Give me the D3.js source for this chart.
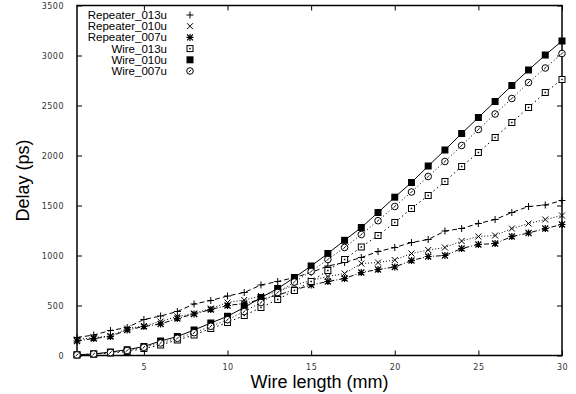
<!DOCTYPE html>
<meta charset="utf-8">
<style>
body { margin: 0; background: #fff; }
.tick text { font: 8px "DejaVu Sans", sans-serif; fill: #333; letter-spacing: 0.5px; }
.title { font: 18px "Liberation Sans", Arial, sans-serif; fill: #000; }
.legend text { font: 11.5px "Liberation Sans", Arial, sans-serif; fill: #000; }
</style>
<body>
<script src="https://cdn.jsdelivr.net/npm/d3@7"></script>
<script>

const lengths = [1,2,3,4,5,6,7,8,9,10,11,12,13,14,15,16,17,18,19,20,21,22,23,24,25,26,27,28,29,30];

const repeater013 = [180,205,250,280,360,395,440,515,550,595, 630,705,740,780,830,895,930,980,1040,1080, 1130,1160,1245,1270,1320,1360,1430,1490,1505,1550];
const repeater010 = [160,180,195,270,295,340,390,420,470,530, 555,595,640,705,750,790,820,920,930,955, 1020,1055,1080,1145,1190,1200,1270,1320,1360,1400];
const repeater007 = [145,170,190,255,290,315,370,415,460,500, 520,560,605,655,705,740,770,830,860,885, 950,990,1000,1070,1110,1120,1190,1225,1270,1310];
const wire013 = [5,15,25,40,70,105,155,205,270,330, 400,480,560,650,740,850,960,1085,1200,1330, 1470,1600,1740,1890,2030,2180,2330,2480,2630,2760];
const wire010 = [8,15,35,58,90,145,190,255,325,392, 480,580,670,780,895,1020,1152,1280,1430,1583, 1730,1895,2055,2220,2380,2540,2700,2855,3005,3145];
const wire007 = [6,15,30,50,82,125,172,228,292,358, 440,530,630,735,840,960,1080,1210,1348,1490, 1635,1790,1940,2100,2260,2415,2570,2730,2875,3020];

const seriesNames = ["Repeater_013u", "Repeater_010u", "Repeater_007u", "Wire_013u", "Wire_010u", "Wire_007u"];
const xTicks = [5, 10, 15, 20, 25, 30];
const yTicks = [0, 500, 1000, 1500, 2000, 2500, 3000, 3500];

const width = 576, height = 394;
const margin = {top: 5.5, right: 14, bottom: 38.5, left: 77};

const series = [
  {name: seriesNames[0], values: repeater013, dash: "5,3", mark: "plus"},
  {name: seriesNames[1], values: repeater010, dash: "1,2", mark: "cross"},
  {name: seriesNames[2], values: repeater007, dash: "5,2,1,2", mark: "star"},
  {name: seriesNames[3], values: wire013, dash: "1.5,3", mark: "boxdot"},
  {name: seriesNames[4], values: wire010, dash: null, mark: "box"},
  {name: seriesNames[5], values: wire007, dash: "1,2.5", mark: "circle"}
];

const x = d3.scaleLinear()
    .domain([1, 30])
    .range([margin.left, width - margin.right]);

const y = d3.scaleLinear()
    .domain([0, 3500])
    .range([height - margin.bottom, margin.top]);

const svg = d3.select("body").append("svg")
    .attr("width", width)
    .attr("height", height);

// axes, ticks pointing inward, mirrored on top and right
svg.append("g")
    .attr("transform", `translate(0,${y(0)})`)
    .call(d3.axisBottom(x).tickValues(xTicks).tickSize(-5).tickPadding(9).tickFormat(d3.format("d")))
    .call(g => g.select(".domain").remove());

svg.append("g")
    .attr("transform", `translate(0,${y(3500)})`)
    .call(d3.axisTop(x).tickValues(xTicks).tickSize(-5).tickFormat(""))
    .call(g => g.select(".domain").remove());

svg.append("g")
    .attr("transform", `translate(${x(1)},0)`)
    .call(d3.axisLeft(y).tickValues(yTicks).tickSize(-5).tickPadding(13).tickFormat(d3.format("d")))
    .call(g => g.select(".domain").remove());

svg.append("g")
    .attr("transform", `translate(${x(30)},0)`)
    .call(d3.axisRight(y).tickValues(yTicks).tickSize(-5).tickFormat(""))
    .call(g => g.select(".domain").remove());

svg.selectAll(".tick line").attr("stroke", "#000");

svg.append("rect")
    .attr("x", x(1))
    .attr("y", y(3500))
    .attr("width", x(30) - x(1))
    .attr("height", y(0) - y(3500))
    .attr("fill", "none")
    .attr("stroke", "#000")
    .attr("stroke-width", 1.5);

const line = d3.line()
    .x((d, i) => x(lengths[i]))
    .y(d => y(d));

function drawMark(g, kind) {
  const s = 3.5;
  if (kind === "plus") {
    g.append("path").attr("d", `M${-s},0H${s}M0,${-s}V${s}`).attr("stroke", "#000").attr("stroke-width", 1);
  } else if (kind === "cross") {
    const c = 3;
    g.append("path").attr("d", `M${-c},${-c}L${c},${c}M${-c},${c}L${c},${-c}`).attr("stroke", "#000").attr("stroke-width", 1);
  } else if (kind === "star") {
    const c = 3;
    g.append("path").attr("d", `M${-c},${-c}L${c},${c}M${-c},${c}L${c},${-c}M${-s},0H${s}M0,${-s}V${s}`).attr("stroke", "#000").attr("stroke-width", 1.2);
  } else if (kind === "box") {
    g.append("rect").attr("x", -3.5).attr("y", -3.5).attr("width", 7).attr("height", 7).attr("fill", "#000");
  } else if (kind === "boxdot") {
    g.append("rect").attr("x", -3).attr("y", -3).attr("width", 6).attr("height", 6).attr("fill", "#fff").attr("stroke", "#000").attr("stroke-width", 1);
    g.append("rect").attr("x", -0.75).attr("y", -0.75).attr("width", 1.5).attr("height", 1.5).attr("fill", "#000");
  } else if (kind === "circle") {
    g.append("circle").attr("r", 3.3).attr("fill", "#fff").attr("stroke", "#000").attr("stroke-width", 1);
    g.append("path").attr("d", "M-1.2,1.2L1.2,-1.2").attr("stroke", "#000").attr("stroke-width", 1);
  }
}

const plot = svg.append("g");

series.forEach(s => {
  plot.append("path")
      .datum(s.values)
      .attr("fill", "none")
      .attr("stroke", "#000")
      .attr("stroke-width", 1)
      .attr("stroke-dasharray", s.dash)
      .attr("d", line);
});

series.forEach(s => {
  plot.selectAll(null)
    .data(s.values)
    .join("g")
      .attr("transform", (d, i) => `translate(${x(lengths[i])},${y(d)})`)
      .each(function() { drawMark(d3.select(this), s.mark); });
});

// legend: labels right aligned, point samples only
const legend = svg.append("g").attr("class", "legend");
series.forEach((s, i) => {
  const ly = 15 + i * 11.2;
  legend.append("text")
      .attr("x", 167)
      .attr("y", ly + 4)
      .attr("text-anchor", "end")
      .text(s.name);
  const g = legend.append("g").attr("transform", `translate(190,${ly})`);
  drawMark(g, s.mark);
});

svg.append("text")
    .attr("class", "title")
    .attr("x", (x(1) + x(30)) / 2)
    .attr("y", 388)
    .attr("text-anchor", "middle")
    .text("Wire length (mm)");

svg.append("text")
    .attr("class", "title")
    .attr("transform", `translate(29,${(y(0) + y(3500)) / 2}) rotate(-90)`)
    .attr("text-anchor", "middle")
    .text("Delay (ps)");

</script>
